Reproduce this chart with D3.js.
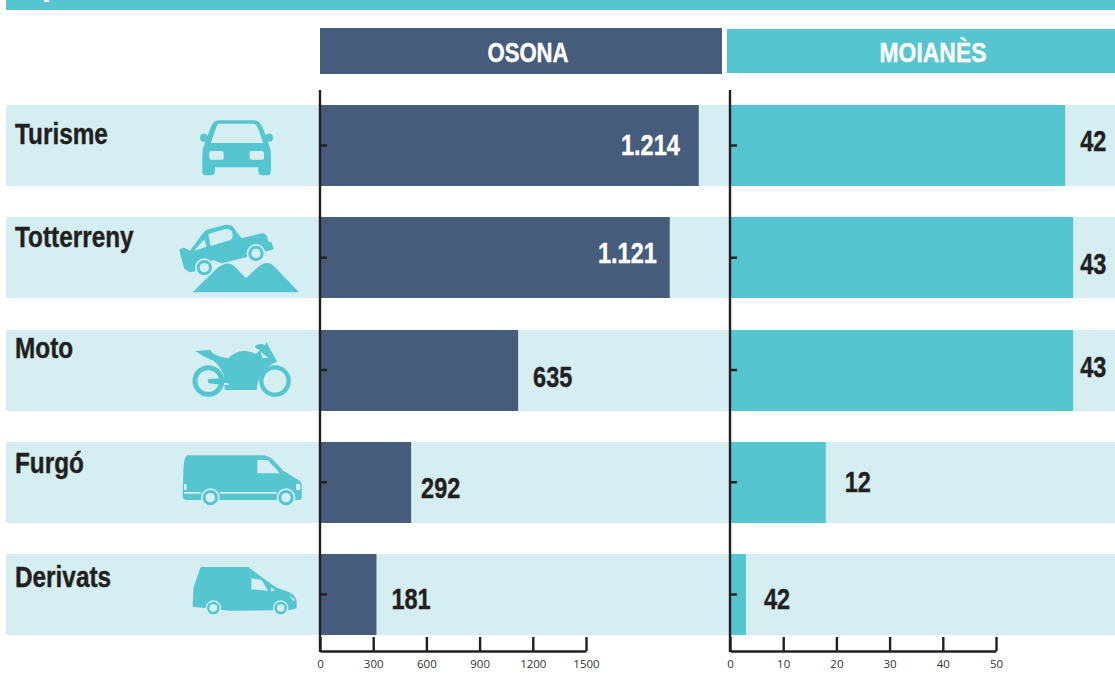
<!DOCTYPE html>
<html lang="en">
<head>
  <meta charset="utf-8">
  <title>Osona - Moianès</title>
  <script src="https://cdn.jsdelivr.net/npm/d3@7"></script>
  <style>
    html, body { margin: 0; padding: 0; background: #fff; }
    svg { display: block; }
    text { font-family: "Liberation Sans", sans-serif; font-weight: 700; stroke: currentColor; stroke-width: 0.4px; }
    .axis text { font-family: "Open Sans", sans-serif; font-weight: 400; font-size: 11.5px; fill: #333; stroke: none; }
    .axis path, .axis line { stroke: #231f20; stroke-width: 2.4px; }
  </style>
</head>
<body>
<div id="chart"></div>
<script>

// data
var categories = ["Turisme", "Totterreny", "Moto", "Furgó", "Derivats"];
var osonaValues = [1214, 1121, 635, 292, 181];
var osonaLabels = ["1.214", "1.121", "635", "292", "181"];
// last bar is drawn as 2 in the picture although it is printed "42"
var moianesValues = [42, 43, 43, 12, 2];
var moianesLabels = ["42", "43", "43", "12", "42"];
var osonaTicks = [0, 300, 600, 900, 1200, 1500];
var moianesTicks = [0, 10, 20, 30, 40, 50];

// colours
var navy = "#455c7b", teal = "#55c5d0", pale = "#d4eef2", ink = "#231f20";

// layout fiddling, the labels in the original are placed by hand
var nameBase = [39, 30, 28, 31, 33];
var osonaDx = [-19, -13, 15, 10, 15];
var osonaDy = [50, 46, 57, 56, 55];
var moianesDx = [15, 7, 7, 19, 18];
var moianesDy = [46, 57, 47, 50, 55];

var svg = d3.select("#chart").append("svg")
    .attr("width", 1115)
    .attr("height", 673);

// y scale shared by both panels
var y = d3.scaleBand()
    .domain(categories)
    .range([105, 635])
    .paddingInner(31.25 / 112.25);

function rowY(name) { return Math.round(y(name)); }

// the printed axes don't line up with the bars in the original,
// so each panel has a scale for the bars and one for the axis
var xOsonaBar = d3.scaleLinear().domain([0, 1500]).range([320, 788]);
var xOsonaAxis = d3.scaleLinear().domain([0, 1500]).range([320, 586]);
var xMoianesBar = d3.scaleLinear().domain([0, 50]).range([730, 1129]);
var xMoianesAxis = d3.scaleLinear().domain([0, 50]).range([730, 996]);

// no condensed font here, so squeeze the bold one
function squeeze(x, yPos, sx) {
  return "translate(" + x + "," + yPos + ") scale(" + sx + ",1)";
}

// top strip, with the foot of a cut off title letter
svg.append("rect").attr("x", 6).attr("y", 0).attr("width", 1109).attr("height", 10).attr("fill", teal);
svg.append("rect").attr("x", 44).attr("y", 0).attr("width", 5).attr("height", 2).attr("fill", "#fff");

// panel headers
svg.append("rect").attr("x", 320).attr("y", 28).attr("width", 402).attr("height", 46).attr("fill", navy);
svg.append("rect").attr("x", 727).attr("y", 29).attr("width", 388).attr("height", 44).attr("fill", teal);
svg.append("text").attr("transform", squeeze(528, 62, 0.82)).attr("text-anchor", "middle")
    .attr("font-size", 27).attr("fill", "#fff").style("color", "#fff").text("OSONA");
svg.append("text").attr("transform", squeeze(933, 62, 0.85)).attr("text-anchor", "middle")
    .attr("font-size", 27).attr("fill", "#fff").style("color", "#fff").text("MOIANÈS");

// pale row backgrounds
svg.selectAll("rect.row")
    .data(categories)
    .enter().append("rect")
    .attr("class", "row")
    .attr("x", 6)
    .attr("y", function(d) { return rowY(d); })
    .attr("width", 1109)
    .attr("height", y.bandwidth())
    .attr("fill", pale);

// category names
svg.selectAll("text.name")
    .data(categories)
    .enter().append("text")
    .attr("class", "name")
    .attr("transform", function(d, i) { return squeeze(15, rowY(d) + nameBase[i], 0.84); })
    .attr("font-size", 29)
    .attr("fill", ink)
    .style("color", ink)
    .text(function(d) { return d; });

// bars
function drawPanel(values, labels, scale, color, dx, dy, inside) {
  var g = svg.append("g");
  g.selectAll("rect")
      .data(values)
      .enter().append("rect")
      .attr("x", scale(0))
      .attr("y", function(d, i) { return rowY(categories[i]); })
      .attr("width", function(d) { return scale(d) - scale(0); })
      .attr("height", y.bandwidth())
      .attr("fill", color);
  g.selectAll("text")
      .data(values)
      .enter().append("text")
      .attr("transform", function(d, i) { return squeeze(scale(d) + dx[i], rowY(categories[i]) + dy[i], 0.81); })
      .attr("text-anchor", function(d, i) { return i < inside ? "end" : "start"; })
      .attr("font-size", 29)
      .attr("fill", function(d, i) { return i < inside ? "#fff" : ink; })
      .style("color", function(d, i) { return i < inside ? "#fff" : ink; })
      .text(function(d, i) { return labels[i]; });
}
drawPanel(osonaValues, osonaLabels, xOsonaBar, navy, osonaDx, osonaDy, 2);
drawPanel(moianesValues, moianesLabels, xMoianesBar, teal, moianesDx, moianesDy, 0);

// axes
function drawAxes(scale, ticks) {
  var left = scale.range()[0];
  svg.append("g")
      .attr("class", "axis")
      .attr("transform", "translate(0,651)")
      .call(d3.axisBottom(scale).tickValues(ticks).tickSize(-14).tickSizeOuter(0).tickFormat(d3.format("d")))
      .call(function(g) { g.selectAll("text").attr("y", 9); });
  var yAxis = svg.append("g")
      .attr("class", "axis")
      .attr("transform", "translate(" + left + ",0)")
      .call(d3.axisLeft(y).tickSize(-7).tickSizeOuter(0).tickFormat(""));
  yAxis.select("path").attr("d", "M0,90V652");
}
drawAxes(xOsonaAxis, osonaTicks);
drawAxes(xMoianesAxis, moianesTicks);

// vehicle icons, traced at 3x and scaled down
var icons = svg.append("g").attr("fill", teal);

function icon(i, ox, oy) {
  return icons.append("g")
      .attr("transform", "translate(" + ox + "," + (rowY(categories[i]) + oy) + ") scale(" + (1 / 3) + ")");
}
function wheel(g, cx, cy, r) {
  g.append("circle").attr("cx", cx).attr("cy", cy).attr("r", r).attr("fill", pale);
  g.append("circle").attr("cx", cx).attr("cy", cy).attr("r", r * 0.82).attr("fill", teal);
  g.append("circle").attr("cx", cx).attr("cy", cy).attr("r", r * 0.5).attr("fill", pale);
}

// car
var car = icon(0, 0, -105);
car.append("path").attr("d", "M655 361H760Q778 361 787 380L805 428Q813 445 813 465V515Q813 526 800 526H788Q775 526 775 513V502H645V513Q645 526 632 526H620Q607 526 607 515V465Q607 445 615 428L633 380Q642 361 655 361Z");
car.append("path").attr("fill", pale).attr("d", "M657 371H758Q768 371 773 382L790 429H632L649 382Q652 371 657 371Z");
car.append("circle").attr("cx", 612).attr("cy", 413).attr("r", 12);
car.append("circle").attr("cx", 807).attr("cy", 413).attr("r", 12);
car.append("rect").attr("x", 628).attr("y", 453).attr("width", 43).attr("height", 26).attr("rx", 5).attr("fill", pale);
car.append("rect").attr("x", 749).attr("y", 453).attr("width", 43).attr("height", 26).attr("rx", 5).attr("fill", pale);

// off-roader
var jeep = icon(1, 170, 210 - 217);
jeep.append("path").attr("d", "M68 247L130 185Q170 145 195 170L228 205L265 170Q295 145 318 175L387 247Z");
jeep.append("path").attr("d", "M28 122Q32 112 42 113L60 122L100 68Q105 62 115 58L165 45Q185 42 192 55L215 85L275 70Q288 70 292 82L295 95L305 97L311 118L285 125L235 140L155 160L130 150L76 184L58 187L42 175Z");
jeep.append("path").attr("fill", pale).attr("d", "M115 72L165 57Q180 55 186 65Q192 80 182 90L122 108Z");
jeep.append("path").attr("fill", pale).attr("d", "M72 122L103 88L110 110Z");
wheel(jeep, 103, 173, 28);
wheel(jeep, 258, 130, 28);

// motorbike
var moto = icon(2, 170, 210 - 330);
moto.append("circle").attr("cx", 115).attr("cy", 513).attr("r", 40).attr("fill", "none").attr("stroke", teal).attr("stroke-width", 15);
moto.append("circle").attr("cx", 315).attr("cy", 513).attr("r", 41).attr("fill", "none").attr("stroke", teal).attr("stroke-width", 13);
moto.append("path").attr("d", "M75 423L120 420Q130 438 175 445Q190 425 225 422Q245 424 258 432L270 420Q255 415 255 408Q268 398 285 405L290 397L297 412L322 455L310 460Q285 475 270 500Q262 515 260 540L165 540L163 525L115 520L113 508L163 503Q155 470 130 452Q100 440 75 423Z");
moto.append("path").attr("fill", pale).attr("d", "M272 426L295 443L278 445Z");
moto.append("path").attr("fill", pale).attr("d", "M162 519L176 520L176 525L162 525Z");

// van
var van = icon(3, 170, -2);
van.append("path").attr("d", "M52 46H275Q295 46 312 62L340 92L385 120Q395 126 395 135V170Q395 180 385 180H50Q38 180 38 168L40 90Q42 50 52 46Z");
van.append("path").attr("fill", pale).attr("d", "M262 60H293L330 100H262Z");
van.append("path").attr("fill", pale).attr("d", "M42 156H92V161H42ZM150 156H320V161H150Z");
van.append("rect").attr("x", 42).attr("y", 132).attr("width", 8).attr("height", 18).attr("rx", 3).attr("fill", pale);
van.append("rect").attr("x", 378).attr("y", 132).attr("width", 13).attr("height", 18).attr("rx", 3).attr("fill", pale);
wheel(van, 121, 173, 28);
wheel(van, 348, 173, 28);

// small van
var small = icon(4, 170, 440 - 554);
small.append("path").attr("d", "M92 381H235L280 415L320 443L355 455Q378 465 380 485V505L360 510L180 512L68 500L70 445Z");
small.append("path").attr("fill", pale).attr("d", "M244 415L275 420L294 452L244 448Z");
small.append("path").attr("fill", pale).attr("d", "M303 442L315 452L303 454Z");
small.append("path").attr("fill", pale).attr("d", "M357 468L375 478L372 484Z");
wheel(small, 130, 504, 23);
wheel(small, 332, 504, 23);

</script>
</body>
</html>
